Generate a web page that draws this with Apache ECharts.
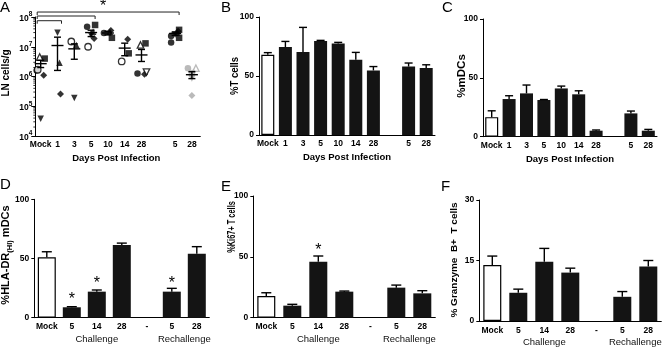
<!DOCTYPE html>
<html><head><meta charset="utf-8">
<script src="https://cdn.jsdelivr.net/npm/echarts@6/dist/echarts.min.js"></script>
<style>html,body{margin:0;padding:0;background:#fff}#c{width:664px;height:348px}</style>
</head><body><div id="c"></div>
<script>
// ---------- DATA ----------
const catsTop = ['Mock','1','3','5','10','14','28','','5','28'];
const catsBottom = ['Mock','5','14','28','-','5','28'];
const groupLabels = ['Challenge','Rechallenge'];

// Panel A: LN cells/g, individual animals by marker [categoryIndex, value]
const lnFilledCircle = [[0,1.6e6],[3,4.7e7],[4,2.9e7],[6,1.25e6],[8,2.3e7],[8,1.4e7]];
const lnOpenCircle = [[0,1.7e6],[2,1.5e7],[3,1.0e7],[5,3.2e6]];
const lnSquare = [[0,4.0e6],[3,5.4e7],[4,2.0e7],[5,6.0e6],[6,1.3e7],[8,3.7e7],[8,2.0e7]];
const lnTriangle = [[1,2.9e6],[2,1.15e7],[3,3.2e7],[4,3.2e7],[8,3.0e7]];
const lnOpenTriangle = [[0,4.5e6],[6,1.15e7]];
const lnInvTriangle = [[0,3.8e4],[1,2.95e7],[2,1.9e5],[3,2.4e7],[8,2.6e7]];
const lnDiamond = [[0,1.1e6],[1,2.6e5],[3,1.9e7],[4,3.5e7],[5,1.8e7],[6,1.2e6],[8,3.3e7]];
const lnOpenInvTriangle = [[6,1.4e6]];
const lnGreyCircle = [[9,1.9e6]];
const lnGreyOpenTriangle = [[9,1.9e6]];
const lnGreySquare = [[9,1.3e6]];
const lnGreyInvTriangle = [[9,8.5e5]];
const lnGreyDiamond = [[9,2.3e5]];
const lnMean = [2.7e6, 1.1e7, 8.5e6, 3.0e7, 2.9e7, 9.0e6, 5.3e6, null, 2.8e7, 1.15e6];
const lnSemHigh = [3.5e6, 2.1e7, 1.25e7, 3.6e7, 3.3e7, 1.32e7, 8.1e6, null, 3.1e7, 1.45e6];
const lnSemLow = [2.0e6, 1.6e6, 3.8e6, 2.2e7, 2.5e7, 5.0e6, 3.2e6, null, 2.4e7, 8.5e5];
const lnBrackets = [[0,1,7.5e7],[0,3,1.08e8],[0,8,1.47e8]];

// Panel B: %T cells
const pctT = [68, 74.5, 70.3, 79.6, 77.6, 63.7, 54.7, null, 58, 56.7];
const pctTErr = [69.8, 79.3, 91.2, 80.2, 78.5, 70, 58, null, 61, 59.5];
// Panel C: %mDCs
const pctMDC = [16.6, 32, 36.8, 31.2, 41, 36, 5.1, null, 19.8, 5.1];
const pctMDCErr = [22, 34.8, 43.9, 31.6, 43, 39, 5.7, null, 21.8, 6.2];
// Panel D: %HLA-DR(HI) mDCs
const pctHLA = [51, 8.8, 22, 61.5, null, 22, 54];
const pctHLAErr = [55.7, 9.3, 23.4, 63, null, 24.8, 60];
const starsHLA = [[1,18.5],[2,32],[5,32.5]];
// Panel E: %Ki67+ T cells
const pctKi67 = [17.8, 9.9, 46, 21.4, null, 24.7, 20];
const pctKi67Err = [20.5, 11, 50.7, 21.9, null, 26.8, 22.2];
const starsKi67 = [[2,58.3]];
// Panel F: %Granzyme B+ T cells
const pctGzmB = [13.9, 7.0, 14.7, 12, null, 6.0, 13.5];
const pctGzmBErr = [16.1, 7.9, 18, 13.1, null, 7.3, 15];

// ---------- CHART ----------
const FONT = 'Liberation Sans, Arial, sans-serif';
const lab = {fontFamily: FONT, fontWeight: 'bold', fontSize: 8.5, color: '#000'};
const chart = echarts.init(document.getElementById('c'), null, {renderer: 'canvas'});

function catAxis(gi, data, extra) {
  return Object.assign({
    type: 'category', gridIndex: gi, data,
    axisLine: {lineStyle: {color: '#000', width: 1}},
    axisTick: {alignWithLabel: true, length: 3, interval: 0, lineStyle: {color: '#000'}},
    axisLabel: Object.assign({margin: 4, interval: 0}, lab),
    splitLine: {show: false}
  }, extra || {});
}
function valAxis(gi, max, interval) {
  return {type: 'value', gridIndex: gi, min: 0, max, interval,
    axisLine: {show: true, lineStyle: {color: '#000'}},
    axisTick: {show: true, length: 3, lineStyle: {color: '#000'}},
    axisLabel: Object.assign({margin: 5}, lab),
    splitLine: {show: false}};
}
function barSeries(gi, data, width) {
  return {type: 'bar', xAxisIndex: gi, yAxisIndex: gi, barWidth: width, silent: true,
    itemStyle: {color: '#141414'},
    data: data.map((v, i) => i === 0 ? {value: v, itemStyle: {color: '#fff', borderColor: '#000', borderWidth: 1.2}} : v)};
}
function errSeries(gi, vals, errs, cap) {
  return {type: 'custom', xAxisIndex: gi, yAxisIndex: gi, silent: true, z: 3,
    data: vals.map((v, i) => v == null ? null : [i, v, errs[i]]).filter(d => d),
    renderItem: (p, api) => {
      const t = api.coord([api.value(0), api.value(1)]);
      const e = api.coord([api.value(0), api.value(2)]);
      const st = {stroke: '#000', lineWidth: 1.4};
      return {type: 'group', children: [
        {type: 'line', shape: {x1: t[0], y1: t[1], x2: e[0], y2: e[1]}, style: st},
        {type: 'line', shape: {x1: e[0] - cap, y1: e[1], x2: e[0] + cap, y2: e[1]}, style: st}
      ]};
    }};
}
function starSeries(gi, data) {
  return {type: 'custom', xAxisIndex: gi, yAxisIndex: gi, silent: true, data,
    renderItem: (p, api) => {
      const c = api.coord([api.value(0), api.value(1)]);
      return {type: 'text', x: c[0], y: c[1] + 4, style: {text: '*', fontFamily: FONT, fontSize: 16, fill: '#000', align: 'center', verticalAlign: 'middle'}};
    }};
}
function groupSeries(gi) {
  return {type: 'custom', xAxisIndex: gi, yAxisIndex: gi, silent: true,
    data: [[1, 3, 0], [5, 6, 1]],
    renderItem: (p, api) => {
      const a = api.coord([api.value(0), 0]);
      const b = api.coord([api.value(1), 0]);
      return {type: 'text', x: (a[0] + b[0]) / 2, y: a[1] + 21.5,
        style: {text: groupLabels[api.value(2)], fontFamily: FONT, fontSize: 9.5, fill: '#111', align: 'center', verticalAlign: 'middle'}};
    }};
}
function pts(data, symbol, dx, opts) {
  return Object.assign({type: 'scatter', xAxisIndex: 0, yAxisIndex: 0, data, symbol, symbolSize: 6.5,
    symbolOffset: [dx, 0], silent: true, z: 4, itemStyle: {color: '#000'}}, opts || {});
}
const openStyle = {color: '#fff', borderColor: '#000', borderWidth: 1.3};
const GREY = '#a9a9a9';

// minor log ticks for panel A
const lnMinor = [];
for (let e = 4; e < 8; e++) for (let m = 2; m <= 9; m++) lnMinor.push(m * Math.pow(10, e));

const xTitle = {fontFamily: FONT, fontWeight: 'bold', fontSize: 9.5, color: '#000'};
function vtitle(text, x, y, size, sx, extra) {
  return Object.assign({type: 'text', x, y, rotation: Math.PI / 2, scaleX: sx, scaleY: 1, silent: true,
    style: {text, fontFamily: FONT, fontSize: size, fontWeight: 'bold', fill: '#000', align: 'center', verticalAlign: 'middle'}}, extra || {});
}
function letter(t, x, y) {
  return {type: 'text', x, y, silent: true, style: {text: t, fontFamily: FONT, fontSize: 15, fill: '#000', align: 'left', verticalAlign: 'top'}};
}

const option = {
  animation: false,
  backgroundColor: '#fff',
  grid: [
    {left: 32.3, top: 17, width: 168, height: 119},
    {left: 259, top: 17, width: 176, height: 118},
    {left: 483, top: 19, width: 174, height: 117.7},
    {left: 34.3, top: 199.3, width: 175, height: 118.4},
    {left: 253.3, top: 196, width: 182, height: 121.7},
    {left: 479.3, top: 200, width: 182, height: 121}
  ],
  xAxis: [
    catAxis(0, catsTop, {name: 'Days Post Infection', nameLocation: 'middle', nameGap: 17, nameTextStyle: xTitle}),
    catAxis(1, catsTop, {name: 'Days Post Infection', nameLocation: 'middle', nameGap: 17, nameTextStyle: xTitle}),
    catAxis(2, catsTop, {name: 'Days Post Infection', nameLocation: 'middle', nameGap: 18, nameTextStyle: xTitle}),
    catAxis(3, catsBottom),
    catAxis(4, catsBottom),
    catAxis(5, catsBottom, {axisLabel: Object.assign({margin: 5, interval: 0}, lab)})
  ],
  yAxis: [
    {type: 'log', gridIndex: 0, min: 1e4, max: 1e8, logBase: 10, offset: -3,
      axisLine: {show: true, lineStyle: {color: '#000'}},
      axisTick: {show: true, length: 4, lineStyle: {color: '#000'}},
      splitLine: {show: false},
      axisLabel: {margin: 3, formatter: v => '{b|10}{s|' + Math.round(Math.log10(v)) + '}',
        rich: {b: Object.assign({}, lab, {fontSize: 8.5, verticalAlign: 'bottom', lineHeight: 12}),
               s: Object.assign({}, lab, {fontSize: 6.5, verticalAlign: 'top', lineHeight: 12})}}},
    valAxis(1, 100, 50),
    valAxis(2, 100, 50),
    valAxis(3, 100, 50),
    valAxis(4, 100, 50),
    valAxis(5, 30, 15)
  ],
  graphic: [
    letter('A', 0, 0), letter('B', 221, 0), letter('C', 442, 0),
    letter('D', 0, 177), letter('E', 221, 179), letter('F', 441, 179),
    vtitle('LN cells/g', 6, 73, 10, 1),
    vtitle('%T cells', 235, 76, 10, 0.95),
    vtitle('%mDCs', 461.5, 76, 11, 1.05),
    vtitle('', 7, 255, 11, 1, {style: {text: '{a|%HLA-DR}{s|(HI)}{a| mDCs}', align: 'center', verticalAlign: 'middle',
      rich: {a: {fontFamily: FONT, fontSize: 11, fontWeight: 'bold', fill: '#000', lineHeight: 14, verticalAlign: 'top'},
             s: {fontFamily: FONT, fontSize: 7.5, fontWeight: 'bold', fill: '#000', lineHeight: 14, verticalAlign: 'bottom'}}}}),
    vtitle('%Ki67+ T cells', 232, 227, 10, 0.74),
    vtitle('% Granzyme  B+  T cells', 454, 260, 9.5, 1.05)
  ],
  series: [
    // Panel A
    {type: 'custom', xAxisIndex: 0, yAxisIndex: 0, silent: true, data: lnMinor.map(v => [0, v]),
      renderItem: (p, api) => {
        const c = api.coord([0, api.value(1)]);
        const x = p.coordSys.x + 3;
        return {type: 'line', shape: {x1: x - 2, y1: c[1], x2: x, y2: c[1]}, style: {stroke: '#000', lineWidth: 0.8}};
      }},
    {type: 'custom', xAxisIndex: 0, yAxisIndex: 0, silent: true, z: 5,
      data: lnMean.map((m, i) => m == null ? null : [i, m, lnSemHigh[i], lnSemLow[i]]).filter(d => d),
      renderItem: (p, api) => {
        const i = api.value(0);
        const m = api.coord([i, api.value(1)]), h = api.coord([i, api.value(2)]), l = api.coord([i, api.value(3)]);
        const st = {stroke: '#000', lineWidth: 1.4};
        return {type: 'group', children: [
          {type: 'line', shape: {x1: m[0] - 6, y1: m[1], x2: m[0] + 6, y2: m[1]}, style: st},
          {type: 'line', shape: {x1: h[0], y1: h[1], x2: l[0], y2: l[1]}, style: st},
          {type: 'line', shape: {x1: h[0] - 3.5, y1: h[1], x2: h[0] + 3.5, y2: h[1]}, style: st},
          {type: 'line', shape: {x1: l[0] - 3.5, y1: l[1], x2: l[0] + 3.5, y2: l[1]}, style: st}
        ]};
      }},
    {type: 'custom', xAxisIndex: 0, yAxisIndex: 0, silent: true, data: lnBrackets,
      renderItem: (p, api) => {
        const a = api.coord([api.value(0), api.value(2)]);
        const b = api.coord([api.value(1), api.value(2)]);
        const x0 = a[0] - 3.5, x1 = b[0] + 4, y = a[1];
        const st = {stroke: '#222', lineWidth: 1};
        const ch = [
          {type: 'line', shape: {x1: x0, y1: y, x2: x1, y2: y}, style: st},
          {type: 'line', shape: {x1: x0, y1: y, x2: x0, y2: y + 3}, style: st},
          {type: 'line', shape: {x1: x1, y1: y, x2: x1, y2: y + 3}, style: st}
        ];
        if (p.dataIndex === 2) ch.push({type: 'text', x: (x0 + x1) / 2 - 5, y: y - 5, style: {text: '*', fontFamily: FONT, fontSize: 16, fill: '#000', align: 'center', verticalAlign: 'middle'}});
        return {type: 'group', children: ch};
      }},
    pts(lnFilledCircle, 'circle', -4),
    pts(lnOpenCircle, 'circle', -3, {itemStyle: openStyle}),
    pts(lnSquare, 'rect', 4),
    pts(lnTriangle, 'triangle', 2),
    pts(lnOpenTriangle, 'triangle', -1, {itemStyle: openStyle}),
    pts(lnInvTriangle, 'triangle', 0, {symbolRotate: 180}),
    pts(lnDiamond, 'diamond', 3, {symbolSize: 7}),
    pts(lnOpenInvTriangle, 'triangle', 5, {symbolRotate: 180, itemStyle: openStyle}),
    pts(lnGreyCircle, 'circle', -4, {itemStyle: {color: GREY}}),
    pts(lnGreyOpenTriangle, 'triangle', 4, {itemStyle: {color: '#fff', borderColor: GREY, borderWidth: 1.3}}),
    pts(lnGreySquare, 'rect', 0, {itemStyle: {color: GREY}}),
    pts(lnGreyInvTriangle, 'triangle', 0, {symbolRotate: 180, itemStyle: {color: GREY}}),
    pts(lnGreyDiamond, 'diamond', 0, {symbolSize: 7, itemStyle: {color: GREY}}),
    // Panel B
    barSeries(1, pctT, 13), errSeries(1, pctT, pctTErr, 4),
    // Panel C
    barSeries(2, pctMDC, 13), errSeries(2, pctMDC, pctMDCErr, 4),
    // Panel D
    barSeries(3, pctHLA, 18), errSeries(3, pctHLA, pctHLAErr, 5), starSeries(3, starsHLA), groupSeries(3),
    // Panel E
    barSeries(4, pctKi67, 18), errSeries(4, pctKi67, pctKi67Err, 5), starSeries(4, starsKi67), groupSeries(4),
    // Panel F
    barSeries(5, pctGzmB, 18), errSeries(5, pctGzmB, pctGzmBErr, 5), groupSeries(5)
  ]
};
chart.setOption(option);
</script>
</body></html>
